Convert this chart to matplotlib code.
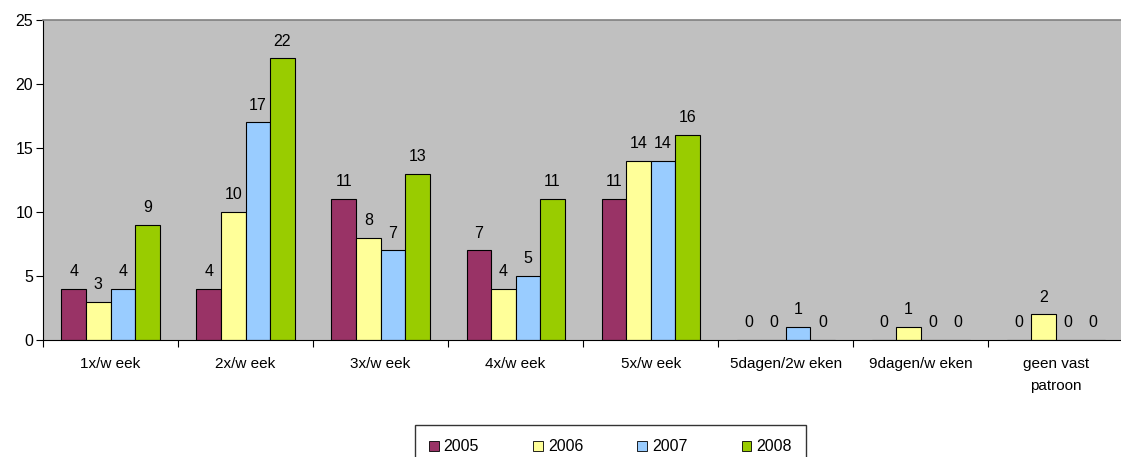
import numpy as np
from matplotlib import pyplot as plt

plt.rcParams['font.family'] = ['Liberation Sans', 'DejaVu Sans']

categories = ['1x/w eek', '2x/w eek', '3x/w eek', '4x/w eek', '5x/w eek',
              '5dagen/2w eken', '9dagen/w eken', 'geen vast\npatroon']
years = ['2005', '2006', '2007', '2008']
v2005 = [4, 4, 11, 7, 11, 0, 0, 0]
v2006 = [3, 10, 8, 4, 14, 0, 1, 2]
v2007 = [4, 17, 7, 5, 14, 1, 0, 0]
v2008 = [9, 22, 13, 11, 16, 0, 0, 0]
series = [v2005, v2006, v2007, v2008]
colors = ['#993366', '#FFFF99', '#99CCFF', '#99CC00']

fig = plt.figure(figsize=(11.21, 4.57), dpi=100)
ax = fig.add_axes([43/1121, 1 - 340/457, 1 - 43/1121 + 0.002, 320/457])
ax.set_facecolor('#C0C0C0')

x = np.arange(len(categories))
w = 1 / 5.5
for i, (vals, c, lab) in enumerate(zip(series, colors, years)):
    pos = x + (i - 1.5) * w
    ax.bar(pos, vals, w, color=c, edgecolor='black', linewidth=0.8, label=lab)
    for p, v in zip(pos, vals):
        ax.annotate(str(v), (p, v), xytext=(0, 7), textcoords='offset points',
                    ha='center', va='bottom', fontsize=11.5)

ax.set_xlim(-0.5, len(categories) - 0.5)
ax.set_ylim(0, 25)
ax.set_yticks(range(0, 26, 5))
ax.set_xticks(np.arange(len(categories) + 1) - 0.5, minor=True)
ax.set_xticks(x)
ax.set_xticklabels(categories, fontsize=11, linespacing=1.75)
ax.tick_params(axis='x', which='major', length=0, pad=12)
ax.tick_params(axis='x', which='minor', length=5, direction='out', width=0.8)
ax.tick_params(axis='y', length=5, direction='out', labelsize=11.5, width=0.8, pad=2)

ax.spines['top'].set_color('#808080')
ax.spines['top'].set_linewidth(1.2)
ax.spines['right'].set_visible(False)
for s in ['left', 'bottom']:
    ax.spines[s].set_color('black')
    ax.spines[s].set_linewidth(0.8)

leg = fig.legend(loc='upper center', bbox_to_anchor=(0.5445, 1 - 425/457), ncol=4,
                 fontsize=11.5, frameon=True, fancybox=False, edgecolor='black',
                 handlelength=0.6, handleheight=0.6, columnspacing=3.4,
                 handletextpad=0.3, borderpad=0.9, borderaxespad=0)
leg.get_frame().set_linewidth(1.0)
for h in leg.legend_handles:
    h.set_linewidth(0.6)

fig.savefig('out.png', dpi=100)
